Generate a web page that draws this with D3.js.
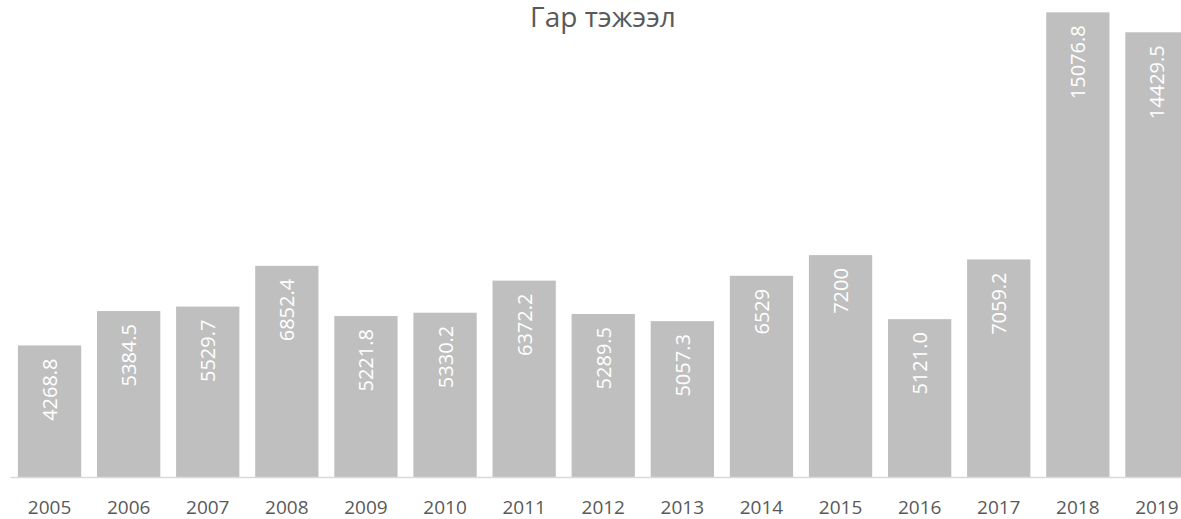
<!DOCTYPE html>
<html>
<head>
<meta charset="utf-8">
<script src="https://cdn.jsdelivr.net/npm/d3@7"></script>
<style>
  body { margin: 0; background: #fff; overflow: hidden; }
  svg { display: block; }
</style>
</head>
<body>
<svg id="chart" width="1181" height="519"></svg>
<script>
// Гар тэжээл, by year
var years = ["2005", "2006", "2007", "2008", "2009", "2010", "2011", "2012",
             "2013", "2014", "2015", "2016", "2017", "2018", "2019"];
var values = [4268.8, 5384.5, 5529.7, 6852.4, 5221.8, 5330.2, 6372.2, 5289.5,
              5057.3, 6529, 7200, 5121.0, 7059.2, 15076.8, 14429.5];
var valueLabels = ["4268.8", "5384.5", "5529.7", "6852.4", "5221.8", "5330.2", "6372.2", "5289.5",
                   "5057.3", "6529", "7200", "5121.0", "7059.2", "15076.8", "14429.5"];
var title = "Гар тэжээл";

var svg = d3.select("#chart");
var baseY = 477;

var x = d3.scaleBand()
  .domain(years)
  .range([10, 1196.5])
  .paddingInner(0.2)
  .paddingOuter(0.1);

var y = d3.scaleLinear()
  .domain([0, 16000])
  .range([baseY, baseY - 16000 * 0.03082]);

// title (sits right at the top edge)
svg.append("text")
  .attr("x", 603)
  .attr("y", 27)
  .attr("text-anchor", "middle")
  .attr("fill", "#595959")
  .style("font-family", "'Open Sans', sans-serif")
  .style("font-size", "28px")
  .text(title);

var bars = svg.append("g").selectAll("g")
  .data(years)
  .enter()
  .append("g");

bars.append("rect")
  .attr("x", function(d) { return x(d); })
  .attr("y", function(d, i) { return y(values[i]); })
  .attr("width", x.bandwidth())
  .attr("height", function(d, i) { return baseY - y(values[i]); })
  .attr("fill", "#bfbfbf");

// value labels, rotated, inside the top of the bar
bars.append("text")
  .attr("transform", function(d, i) {
    return "translate(" + (x(d) + x.bandwidth() / 2) + "," + (y(values[i]) + 13) + ") rotate(-90)";
  })
  .attr("text-anchor", "end")
  .attr("dominant-baseline", "central")
  .attr("fill", "#ffffff")
  .style("font-family", "'Open Sans', sans-serif")
  .style("font-size", "20px")
  .text(function(d, i) { return valueLabels[i]; });

// axis
var xAxis = d3.axisBottom(x).tickSize(0).tickPadding(24);
var ax = svg.append("g")
  .attr("transform", "translate(0," + baseY + ")")
  .call(xAxis);
ax.select(".domain").attr("stroke", "#d9d9d9").attr("stroke-width", 1.5);
ax.selectAll("text")
  .attr("fill", "#595959")
  .style("font-family", "'Open Sans', sans-serif")
  .style("font-size", "19px");
</script>
</body>
</html>
